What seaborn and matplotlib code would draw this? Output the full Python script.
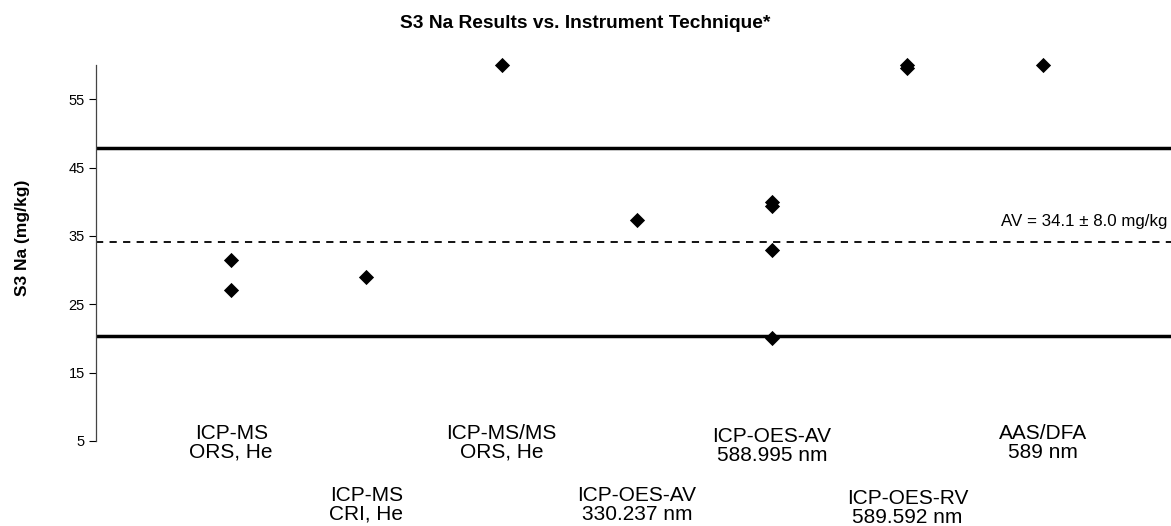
import numpy as np
import pandas as pd
import matplotlib
matplotlib.use('Agg')
import matplotlib.pyplot as plt
import matplotlib.transforms as mtransforms
import seaborn as sns

# instrument techniques (x categories), two-line labels
techniques = ["ICP-MS\nORS, He", "ICP-MS\nCRI, He", "ICP-MS/MS\nORS, He",
              "ICP-OES-AV\n330.237 nm", "ICP-OES-AV\n588.995 nm",
              "ICP-OES-RV\n589.592 nm", "AAS/DFA\n589 nm"]

# one entry per lab result: technique index and Na result (mg/kg)
result_technique = [0, 0, 1, 2, 3, 4, 4, 4, 4, 5, 5, 6]
result_na = [31.5, 27.1, 29.0, 60.0, 37.3, 40.0, 39.4, 32.9, 20.0, 60.0, 59.6, 60.0]

# assigned value and limits
av = 34.1
av_unc = 8.0
lower_limit = 20.4
upper_limit = 47.8

yticks = [5, 15, 25, 35, 45, 55]

sns.set_style("white")
plt.rcParams['font.family'] = ['Liberation Sans', 'DejaVu Sans']
plt.rcParams['text.color'] = 'black'
plt.rcParams['axes.labelcolor'] = 'black'

df = pd.DataFrame({'technique': result_technique, 'na': result_na})

fig = plt.figure(figsize=(11.71, 5.26), dpi=100)
ax = fig.add_axes([0.082, 0.1616, 0.918, 0.7148])

# limit lines and assigned value
ax.axhline(upper_limit, color='black', lw=2.5, zorder=1)
ax.axhline(lower_limit, color='black', lw=2.5, zorder=1)
ax.axhline(av, color='black', lw=1.3, ls=(0, (4, 3.5)), zorder=1)

sns.scatterplot(data=df, x='technique', y='na', marker='D', s=60, color='black',
                linewidth=0, ax=ax, clip_on=False, zorder=3)

ax.set_xlim(-1.0, 6.95)
ax.set_ylim(5, 60)
ax.set_yticks(yticks)
ax.set_xticks([])
ax.tick_params(axis='y', which='both', left=True, length=5, width=0.8,
               colors='black', labelsize=10.5, pad=3)

for side in ['top', 'right', 'bottom']:
    ax.spines[side].set_visible(False)
ax.spines['left'].set_color('#444444')
ax.spines['left'].set_linewidth(0.9)

ax.set_xlabel('')
ax.set_ylabel('S3 Na (mg/kg)', fontsize=12.5, fontweight='bold')
ax.yaxis.set_label_coords(-0.061, 0.54)

fig.suptitle('S3 Na Results vs. Instrument Technique*', fontsize=13.8,
             fontweight='bold', x=0.5, y=0.956, va='center')

ax.text(0.997, av + 1.9, 'AV = %.1f \u00b1 %.1f mg/kg' % (av, av_unc),
        transform=mtransforms.blended_transform_factory(ax.transAxes, ax.transData),
        ha='right', va='bottom', fontsize=12.2)

# staggered technique labels
trans = mtransforms.blended_transform_factory(ax.transData, ax.transAxes)
label_y = [-0.005, -0.170, -0.005, -0.170, -0.013, -0.178, -0.005]
for i, lab in enumerate(techniques):
    ax.text(i, label_y[i], lab, transform=trans, ha='center', va='center',
            fontsize=15, linespacing=0.95)

fig.savefig('out.png', dpi=100)
